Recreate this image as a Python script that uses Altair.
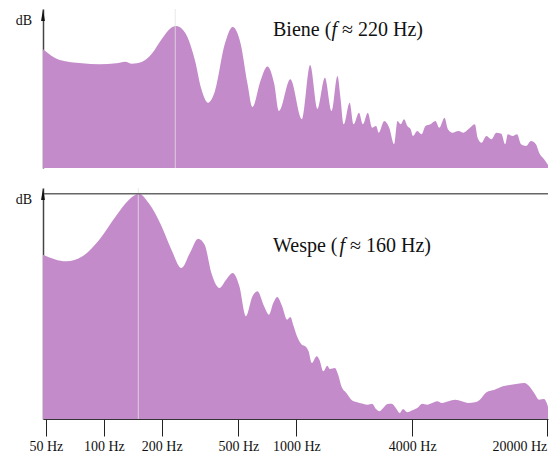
import altair as alt
import pandas as pd

# ---------------- data ----------------
# Biene (bee): frequency in Hz, relative level (dB, arbitrary reference)
biene_freq = [48.3, 59, 77, 95, 116, 129, 140, 157, 177, 200, 224, 238, 265, 298, 320, 348, 378,
              425, 467, 514, 558, 592, 651, 707, 768, 812, 931, 1069, 1180, 1287, 1408, 1524, 1636,
              1696, 1763, 1893, 1985, 2115, 2217, 2352, 2476, 2596, 2679, 2863, 3038, 3222, 3354,
              3488, 3628, 3775, 3926, 4034, 4250, 4472, 4688, 4973, 5276, 5533, 5888, 6131, 6472,
              6950, 7373, 7823, 8468, 8744, 9165, 9723, 10316, 10945, 11612, 12168, 12549, 13313,
              14031, 14703, 15610, 16561, 17567, 18250, 19369, 20800]
biene_level = [118.7, 108, 104.7, 103.7, 104.7, 106.3, 104.3, 106, 114, 129, 140.3, 142, 135, 107, 80,
               65.3, 77, 124, 141, 124, 84, 61, 87, 101.5, 84, 57, 88.7, 48.7, 103, 59, 90.3, 57, 92,
               70, 43.7, 65.3, 43.7, 55.3, 43.7, 55.3, 40.3, 42, 35.3, 47, 40.3, 23.7, 47,
               43.7, 48.7, 42, 38.7, 32, 37, 33.7, 42, 43.7, 47, 40.3, 50.3, 38.7, 35.3,
               37, 35.3, 38.7, 43.7, 30.3, 25.3, 32, 28.7, 35.3, 34.3, 23.7, 33.7, 32,
               33.7, 23.7, 22, 27, 23.7, 15.3, 8.7, 0]

# Wespe (wasp)
wespe_freq = [48.3, 63.9, 77.4, 94.7, 115.4, 135, 152, 171, 199.5, 224.5, 253, 280, 309, 334, 362, 399,
              432, 467, 506, 547, 592, 628, 680, 721, 759, 796, 844, 895, 931, 969, 1008, 1069, 1112,
              1158, 1203, 1277, 1318, 1382, 1449, 1494, 1585, 1650, 1715, 1820, 1931, 2050, 2217,
              2352, 2476, 2596, 2699, 2829, 2979, 3136, 3288, 3447, 3585, 3775, 4006, 4250, 4507,
              4783, 5075, 5382, 5708, 6173, 6690, 7237, 7823, 8468, 8985, 9723, 10725, 11835, 13070,
              14131, 15295, 16227, 17212, 18250, 19369, 20146, 20800]
wespe_level = [164.3, 157.7, 162.7, 179.3, 202.7, 219.3, 225.3, 216, 192.7, 169.3, 151, 166, 180.3, 174.3,
               146, 131, 139.3, 146, 132.7, 102.7, 122.7, 127.7, 112.7, 104.3, 116, 122, 112.7, 99.3,
               102, 92.7, 82.7, 74.3, 72.7, 67.7, 56, 62.7, 59.3, 47.7, 53.3, 50, 51, 44.3, 32.7, 26,
               19.3, 17, 15.3, 14.3, 15.3, 10, 7.7, 11, 15, 15.3, 11, 6, 10, 6.7, 8.7, 11, 15.3, 14.3,
               16, 17.7, 16, 17.7, 19.3, 17.7, 16, 16.7, 19.3, 26.7, 29.3, 32.7, 34.3, 35.3, 36, 32.7,
               26, 19.3, 20, 14.3, 4.3]

tick_values = [50, 100, 200, 500, 1000, 4000, 20000]
panel_names = ["Biene", "Wespe"]
fundamental_labels = ["220", "160"]
marker_freqs = [235, 151]          # where the light vertical line sits in the picture
x_domain = [48.3, 20300]
y_max = [159, 231]

# ---------------- style ----------------
PURPLE = "#c48bca"
FONT = "Liberation Serif"
W = 505
HEIGHTS = [159, 231]


def panel(i, freq, level, show_axis):
    df = pd.DataFrame({"f": freq, "level": level})
    xaxis = None
    if show_axis:
        xaxis = alt.Axis(
            values=tick_values, labelExpr="datum.value + ' Hz'", title=None, grid=False,
            tickSize=17, tickColor="#222", tickWidth=1, domainColor="#333", domainWidth=1,
            labelFont=FONT, labelFontSize=14, labelColor="#111", labelPadding=3,
            labelFlush=False, labelOverlap=False,
            labelAlign={"condition": {"test": "datum.value >= 20000", "value": "right"}, "value": "center"},
        )
    x = alt.X("f:Q", scale=alt.Scale(type="log", domain=x_domain, nice=False), axis=xaxis)
    y = alt.Y("level:Q", scale=alt.Scale(domain=[0, y_max[i]], nice=False),
              axis=alt.Axis(labels=False, ticks=False, title=None, grid=False,
                            domainColor="#444", domainWidth=1.5, minExtent=0))

    area = alt.Chart(df).mark_area(color=PURPLE, interpolate="monotone", clip=True).encode(x=x, y=y)

    mk = alt.Chart(pd.DataFrame({"f": [marker_freqs[i]]})).mark_rule(
        color="#e2e2e2", strokeWidth=1, opacity=0.8).encode(x=alt.X("f:Q"))

    one = pd.DataFrame({"a": [0]})
    arrow = alt.Chart(one).mark_point(
        shape="M0,-1L0.32,1L-0.32,1Z", filled=True, size=144, color="#111", opacity=1, strokeWidth=0
    ).encode(x=alt.value(0), y=alt.value(6))
    db = alt.Chart(one).mark_text(text="dB", align="right", baseline="alphabetic", font=FONT,
                                  fontSize=14, color="#111").encode(x=alt.value(-11), y=alt.value(16))

    ty = 27 if i == 0 else 64
    t1 = alt.Chart(one).mark_text(text=panel_names[i] + " (", align="left", baseline="alphabetic",
                                  font=FONT, fontSize=20, color="#111").encode(
        x=alt.value(230), y=alt.value(ty))
    fx = 230 + (58.5 if i == 0 else 66.5)
    t2 = alt.Chart(one).mark_text(text="f", align="left", baseline="alphabetic", font=FONT,
                                  fontStyle="italic", fontSize=20, color="#111").encode(
        x=alt.value(fx), y=alt.value(ty))
    t3 = alt.Chart(one).mark_text(text="≈ " + fundamental_labels[i] + " Hz)", align="left",
                                  baseline="alphabetic", font=FONT, fontSize=20, color="#111").encode(
        x=alt.value(fx + 10.5), y=alt.value(ty))

    layers = [area, mk, arrow, db, t1, t2, t3]
    if i == 1:
        peak = max(level)
        top_line = alt.Chart(one).mark_rule(color="#666", strokeWidth=1.5).encode(y=alt.datum(peak))
        layers.insert(2, top_line)
    return alt.layer(*layers).properties(width=W, height=HEIGHTS[i])


top = panel(0, biene_freq, biene_level, False)
bottom = panel(1, wespe_freq, wespe_level, True)

chart = alt.vconcat(top, bottom, spacing=18).properties(
    padding={"left": 7, "top": 0, "right": 0, "bottom": 0}
).configure_view(stroke=None)

chart.save("out.html", embed_options={"renderer": "svg", "actions": False})
